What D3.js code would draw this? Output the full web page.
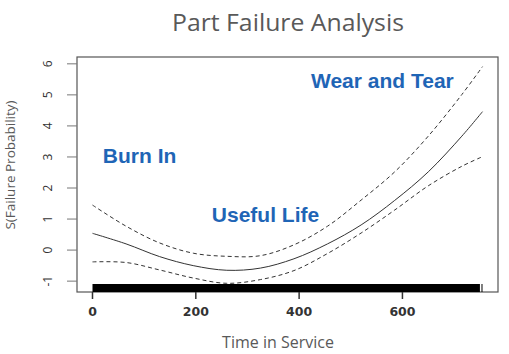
<!DOCTYPE html>
<html lang="en">
	<head>
		<meta charset="UTF-8" />
		<title>Part Failure Analysis</title>
		<style>
			body { margin: 0; background: #fff; }
		</style>
	</head>
	<body>
		<div id="chart"></div>
		<script src="https://cdn.jsdelivr.net/npm/d3@7"></script>
		<script>
			// values
			var times = [0, 65, 130, 195, 260, 325, 390, 455, 520, 585, 650, 715, 755];
			var fit = [0.54, 0.2, -0.21, -0.5, -0.65, -0.58, -0.28, 0.2, 0.81, 1.6, 2.52, 3.67, 4.46];
			var upper = [1.45, 0.77, 0.23, -0.1, -0.2, -0.18, 0.17, 0.77, 1.61, 2.52, 3.67, 5.01, 5.91];
			var lower = [-0.38, -0.4, -0.64, -0.9, -1.07, -0.95, -0.66, -0.11, 0.55, 1.29, 2.07, 2.7, 3.01];
			var rugSpan = [0, 750]; // observations so dense they form a solid bar
			var rugExtra = [754];
			var xTicks = [0, 200, 400, 600];
			var yTicks = [-1, 0, 1, 2, 3, 4, 5, 6];

			var width = 509;
			var height = 354;
			var svg = d3
				.select('#chart')
				.append('svg')
				.attr('width', width)
				.attr('height', height);

			var x = d3.scaleLinear().domain([-30, 785]).range([77, 498]);
			var y = d3.scaleLinear().domain([-1.35, 6.22]).range([292, 57]);

			// plot box
			svg
				.append('rect')
				.attr('x', 77)
				.attr('y', 57)
				.attr('width', 421)
				.attr('height', 235)
				.attr('fill', 'none')
				.attr('stroke', '#555')
				.attr('stroke-width', 1.2);

			// y axis (R style, rotated labels)
			svg
				.selectAll('.ytick')
				.data(yTicks)
				.enter()
				.append('line')
				.attr('x1', 67)
				.attr('x2', 77)
				.attr('y1', function (d) { return y(d); })
				.attr('y2', function (d) { return y(d); })
				.attr('stroke', '#777');
			svg
				.selectAll('.ylab')
				.data(yTicks)
				.enter()
				.append('text')
				.attr('transform', function (d) {
					return 'translate(52,' + y(d) + ') rotate(-90)';
				})
				.attr('text-anchor', 'middle')
				.attr('font-family', 'Open Sans')
				.attr('font-size', 12)
				.attr('fill', '#333')
				.text(function (d) { return d; });

			// x axis
			svg
				.selectAll('.xtick')
				.data(xTicks)
				.enter()
				.append('line')
				.attr('x1', function (d) { return x(d); })
				.attr('x2', function (d) { return x(d); })
				.attr('y1', 292)
				.attr('y2', 299)
				.attr('stroke', '#333')
				.attr('stroke-width', 1.5);
			svg
				.selectAll('.xlab')
				.data(xTicks)
				.enter()
				.append('text')
				.attr('x', function (d) { return x(d); })
				.attr('y', 316)
				.attr('text-anchor', 'middle')
				.attr('font-family', 'DejaVu Sans')
				.attr('font-weight', 'bold')
				.attr('font-size', 12.5)
				.attr('fill', '#333')
				.text(function (d) { return d; });

			// rug
			svg
				.append('rect')
				.attr('x', x(rugSpan[0]))
				.attr('y', 284)
				.attr('width', x(rugSpan[1]) - x(rugSpan[0]))
				.attr('height', 8)
				.attr('fill', '#000');
			svg
				.selectAll('.rug')
				.data(rugExtra)
				.enter()
				.append('line')
				.attr('x1', function (d) { return x(d); })
				.attr('x2', function (d) { return x(d); })
				.attr('y1', 284)
				.attr('y2', 292)
				.attr('stroke', '#000');

			// curves
			function lineFor(vals) {
				return d3
					.line()
					.x(function (d, i) { return x(times[i]); })
					.y(function (d) { return y(d); })
					.curve(d3.curveCatmullRom.alpha(0.5))(vals);
			}
			svg.append('path').attr('d', lineFor(fit)).attr('fill', 'none').attr('stroke', '#333').attr('stroke-width', 1);
			[upper, lower].forEach(function (s) {
				svg
					.append('path')
					.attr('d', lineFor(s))
					.attr('fill', 'none')
					.attr('stroke', '#333')
					.attr('stroke-width', 1)
					.attr('stroke-dasharray', '4,3');
			});

			// phase annotations
			var blue = '#1f65b6';
			[
				{ t: 20, v: 2.81, label: 'Burn In' },
				{ t: 231, v: 0.91, label: 'Useful Life' },
				{ t: 423, v: 5.21, label: 'Wear and Tear' }
			].forEach(function (a) {
				svg
					.append('text')
					.attr('x', x(a.t))
					.attr('y', y(a.v))
					.attr('font-family', 'Liberation Sans')
					.attr('font-weight', 'bold')
					.attr('font-size', 21)
					.attr('fill', blue)
					.text(a.label);
			});

			// titles
			svg
				.append('text')
				.attr('x', 288)
				.attr('y', 31)
				.attr('text-anchor', 'middle')
				.attr('font-family', 'Open Sans')
				.attr('font-size', 23)
				.attr('textLength', 232)
				.attr('lengthAdjust', 'spacingAndGlyphs')
				.attr('fill', '#595959')
				.text('Part Failure Analysis');
			svg
				.append('text')
				.attr('x', 278)
				.attr('y', 348)
				.attr('text-anchor', 'middle')
				.attr('font-family', 'Open Sans')
				.attr('font-size', 16)
				.attr('fill', '#595959')
				.text('Time in Service');
			svg
				.append('text')
				.attr('transform', 'translate(15,165) rotate(-90)')
				.attr('text-anchor', 'middle')
				.attr('font-family', 'Open Sans')
				.attr('font-size', 13.5)
				.attr('fill', '#595959')
				.text('S(Failure Probability)');
		</script>
	</body>
</html>
